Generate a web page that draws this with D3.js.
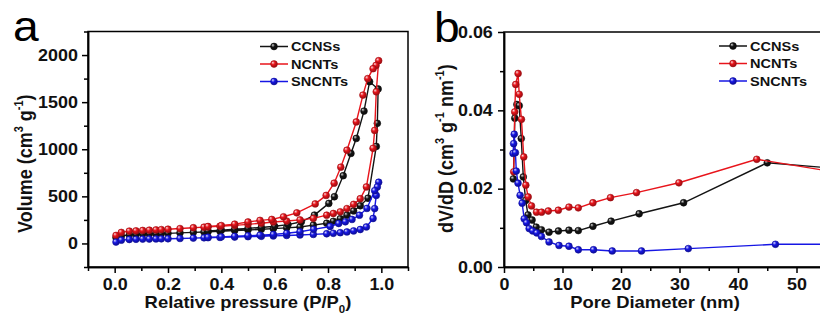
<!DOCTYPE html>
<html><head><meta charset="utf-8">
<script src="https://cdn.jsdelivr.net/npm/d3@7/dist/d3.min.js"></script>
<style>
body{margin:0;background:#fff;}
text{font-family:"Liberation Sans",Arial,Helvetica,sans-serif;}
</style>
</head><body>
<svg id="c" width="820" height="320"></svg>
<script>
// ---------- data ----------
const seriesNames = ["CCNSs", "NCNTs", "SNCNTs"];
const seriesColors = ["#141414", "#e8141b", "#1616e4"];

// N2 isotherms: [relative pressure, volume]
const ccnsAds = [[0.005,62],[0.025,78],[0.055,92],[0.08,96],[0.105,99],[0.13,101],[0.155,103],[0.175,105],[0.2,107],[0.245,112],[0.295,118],[0.335,122],[0.35,124],[0.395,130],[0.45,137],[0.5,143],[0.55,150],[0.595,157],[0.645,165],[0.695,175],[0.745,195],[0.795,215],[0.82,235],[0.846,262],[0.871,300],[0.896,345],[0.921,400],[0.95,480],[0.981,1030],[0.985,1275],[0.988,1640]];
const ccnsDes = [[0.956,1717],[0.935,1405],[0.906,1115],[0.886,956],[0.857,719],[0.824,496],[0.803,425],[0.749,301],[0.70,230],[0.65,200],[0.60,182],[0.55,170],[0.50,160],[0.45,150],[0.40,140],[0.35,132]];
const ncntAds = [[0.005,85],[0.025,117],[0.055,131],[0.08,134],[0.105,138],[0.13,141],[0.155,144],[0.175,147],[0.2,151],[0.245,158],[0.295,167],[0.335,173],[0.35,176],[0.395,183],[0.45,192],[0.5,203],[0.55,215],[0.595,228],[0.645,238],[0.695,250],[0.745,266],[0.795,300],[0.82,318],[0.846,336],[0.871,370],[0.896,415],[0.921,475],[0.944,600],[0.969,1010],[0.975,1200],[0.981,1610],[0.99,1940]];
const ncntDes = [[0.98,1890],[0.969,1855],[0.949,1750],[0.931,1575],[0.906,1290],[0.871,990],[0.848,810],[0.823,640],[0.793,510],[0.752,420],[0.683,325],[0.633,283],[0.589,255],[0.545,245],[0.50,228],[0.45,205],[0.40,190],[0.35,180]];
const sncnAds = [[0.005,15],[0.025,35],[0.055,42],[0.08,44],[0.105,46],[0.13,47],[0.155,48],[0.175,49],[0.2,50],[0.245,53],[0.295,57],[0.335,60],[0.35,61],[0.395,64],[0.45,68],[0.5,72],[0.55,76],[0.595,80],[0.645,85],[0.695,90],[0.745,96],[0.795,103],[0.82,108],[0.846,114],[0.871,122],[0.896,133],[0.921,148],[0.944,175],[0.969,265],[0.975,370],[0.981,510],[0.99,650]];
const sncnDes = [[0.985,600],[0.975,560],[0.946,372],[0.918,300],[0.89,255],[0.865,230],[0.84,212],[0.808,180],[0.746,150],[0.695,124],[0.645,108],[0.595,95],[0.545,88],[0.50,82],[0.45,76],[0.40,70],[0.35,66]];

// pore size distributions: [pore diameter nm, dV/dD]
const ccnsPsd = [[1.6,0.0225],[1.85,0.0380],[2.2,0.0415],[2.6,0.0412],[2.95,0.0328],[3.3,0.0230],[3.7,0.0170],[4.1,0.0133],[4.8,0.0120],[5.5,0.0102],[6.4,0.0095],[7.7,0.0089],[9.3,0.0092],[11.1,0.0094],[12.7,0.0093],[15.2,0.0104],[18.3,0.0117],[23.1,0.0136],[30.7,0.0164],[45.0,0.0266],[58,0.0250]];
const ncntPsd = [[1.66,0.0243],[1.83,0.0396],[2.0,0.0466],[2.41,0.0494],[2.6,0.0441],[2.98,0.0377],[3.38,0.0281],[3.73,0.0209],[4.13,0.0179],[4.7,0.0156],[5.56,0.0140],[6.42,0.0140],[7.57,0.0143],[9.29,0.0145],[11.1,0.0153],[12.7,0.0151],[15.2,0.0164],[18.2,0.0177],[22.65,0.0190],[29.9,0.0215],[43.2,0.0275],[58,0.0239]];
const sncnPsd = [[1.55,0.0290],[1.65,0.0315],[1.75,0.0339],[1.95,0.0292],[2.1,0.0245],[2.4,0.0214],[2.75,0.0183],[3.1,0.0163],[3.45,0.0123],[3.85,0.0113],[4.3,0.0098],[4.9,0.0092],[5.6,0.0087],[6.4,0.0078],[7.7,0.0064],[9.4,0.0055],[11.1,0.0053],[12.7,0.0044],[15.3,0.0044],[18.5,0.0041],[23.5,0.0041],[31.5,0.0047],[46.4,0.0058],[58,0.0058]];

// ticks
const pTicks = [0, 0.2, 0.4, 0.6, 0.8, 1.0];
const pMinor = [-0.1, 0.1, 0.3, 0.5, 0.7, 0.9, 1.1];
const volTicks = [0, 500, 1000, 1500, 2000];
const volMinor = [-250, 250, 750, 1250, 1750, 2250];
const dTicks = [0, 10, 20, 30, 40, 50];
const dMinor = [5, 15, 25, 35, 45, 55];
const psdTicks = [0, 0.02, 0.04, 0.06];
const psdMinor = [0.01, 0.03, 0.05];

// ---------- drawing ----------
const SX = 1.12;
const svg = d3.select("#c");
const defs = svg.append("defs");

seriesColors.forEach((c, i) => {
  const g = defs.append("radialGradient").attr("id", "g" + i)
    .attr("cx", "40%").attr("cy", "40%").attr("r", "60%").attr("fx", "32%").attr("fy", "28%");
  const light = d3.interpolateRgb(c, "#ffffff")(0.85);
  const dark = d3.interpolateRgb(c, "#000000")(0.35);
  g.append("stop").attr("offset", "0%").attr("stop-color", light);
  g.append("stop").attr("offset", "45%").attr("stop-color", c);
  g.append("stop").attr("offset", "100%").attr("stop-color", dark);
});

function panel(opts) {
  const x = d3.scaleLinear().domain(opts.xd).range(opts.xr);
  const y = d3.scaleLinear().domain(opts.yd).range(opts.yr);
  const cid = "clip" + opts.id;
  defs.append("clipPath").attr("id", cid).append("rect")
    .attr("x", opts.xr[0]).attr("y", opts.yr[1])
    .attr("width", opts.xr[1] - opts.xr[0]).attr("height", opts.yr[0] - opts.yr[1]);

  svg.append("rect").attr("x", opts.xr[0]).attr("y", opts.yr[1])
    .attr("width", opts.xr[1] - opts.xr[0]).attr("height", opts.yr[0] - opts.yr[1])
    .attr("fill", "none").attr("stroke", "#000").attr("stroke-width", 1.5);

  const bx = svg.append("g").attr("transform", `translate(0,${opts.yr[0]})`)
    .call(d3.axisBottom(x).tickValues(opts.xt).tickFormat(opts.xf).tickSize(6).tickPadding(6).tickSizeOuter(0));
  svg.append("g").attr("transform", `translate(0,${opts.yr[0]})`)
    .call(d3.axisBottom(x).tickValues(opts.xm).tickFormat("").tickSize(4).tickSizeOuter(0));
  const ly = svg.append("g").attr("transform", `translate(${opts.xr[0]},0)`)
    .call(d3.axisLeft(y).tickValues(opts.yt).tickFormat(opts.yf).tickSize(6).tickPadding(opts.ypad).tickSizeOuter(0));
  svg.append("g").attr("transform", `translate(${opts.xr[0]},0)`)
    .call(d3.axisLeft(y).tickValues(opts.ym).tickFormat("").tickSize(4).tickSizeOuter(0));
  svg.selectAll(".domain").attr("stroke-width", 1.5);
  svg.selectAll(".tick line").attr("stroke-width", 1.5);
  [bx, ly].forEach(g => g.selectAll(".tick text")
    .attr("font-size", 16).attr("font-weight", "bold").attr("fill", "#111")
    .attr("font-family", '"Liberation Sans",Arial,sans-serif')
    .attr("transform", `scale(${SX},1)`));

  const plot = svg.append("g").attr("clip-path", `url(#${cid})`);
  const line = d3.line().x(d => x(d[0])).y(d => y(d[1]));
  opts.data.forEach((pts, i) => {
    plot.append("path").datum(pts).attr("d", line)
      .attr("fill", "none").attr("stroke", seriesColors[i]).attr("stroke-width", 1.4);
    plot.selectAll(null).data(pts).join("circle")
      .attr("cx", d => x(d[0])).attr("cy", d => y(d[1])).attr("r", opts.r)
      .attr("fill", `url(#g${i})`)
      .attr("stroke", d3.interpolateRgb(seriesColors[i], "#000")(0.3)).attr("stroke-width", 0.6);
  });

  seriesNames.forEach((name, i) => {
    const yy = opts.leg[1] + i * 17.5;
    const lx = opts.leg[0];
    svg.append("line").attr("x1", lx).attr("x2", lx + 28).attr("y1", yy).attr("y2", yy)
      .attr("stroke", seriesColors[i]).attr("stroke-width", 1.5);
    svg.append("circle").attr("cx", lx + 14).attr("cy", yy).attr("r", 3.4)
      .attr("fill", `url(#g${i})`).attr("stroke", d3.interpolateRgb(seriesColors[i], "#000")(0.3)).attr("stroke-width", 0.6);
    svg.append("text").attr("transform", `translate(${lx + 31},${yy + 4.6}) scale(${SX},1)`)
      .attr("font-size", 13).attr("font-weight", "bold").attr("fill", "#111").text(name);
  });
  return {x, y};
}

panel({
  id: "a", xd: [-0.1, 1.1], xr: [88, 408], yd: [-250, 2250], yr: [267, 31.5],
  xt: pTicks, xm: pMinor, yt: volTicks, ym: volMinor,
  xf: d3.format(".1f"), yf: d3.format("d"), ypad: 3, r: 3.4,
  data: [ccnsAds.concat(ccnsDes), ncntAds.concat(ncntDes), sncnAds.concat(sncnDes)],
  leg: [260, 46.5]
});

panel({
  id: "b", xd: [0, 60], xr: [504, 855], yd: [0, 0.06], yr: [267, 32],
  xt: dTicks, xm: dMinor, yt: psdTicks, ym: psdMinor,
  xf: d3.format("d"), yf: d3.format(".2f"), ypad: 4, r: 3.4,
  data: [ccnsPsd, ncntPsd, sncnPsd],
  leg: [719, 46]
});

function xTitle(cx, parts) {
  const t = svg.append("text").attr("transform", `translate(${cx},308) scale(1.15,1)`)
    .attr("text-anchor", "middle").attr("font-size", 16).attr("font-weight", "bold").attr("fill", "#111");
  parts(t);
}
xTitle(248, t => {
  t.append("tspan").text("Relative pressure (P/P");
  t.append("tspan").attr("font-size", 10).attr("dy", 5).text("0");
  t.append("tspan").attr("dy", -5).text(")");
});
xTitle(655, t => { t.text("Pore Diameter (nm)"); });

function yTitle(bx, by, segs) {
  const t = svg.append("text").attr("transform", `translate(${bx},${by}) rotate(-90) scale(1,${SX})`)
    .attr("text-anchor", "start").attr("font-size", 18).attr("font-weight", "bold").attr("fill", "#111");
  segs.forEach(s => {
    if (s.sup) t.append("tspan").attr("font-size", 11).attr("dy", -8).text(s.t);
    else t.append("tspan").attr("dy", s.after ? 8 : 0).text(s.t);
  });
}
yTitle(32, 233, [{t:"Volume (cm"},{t:"3",sup:1},{t:" g",after:1},{t:"-1",sup:1},{t:")",after:1}]);
yTitle(453, 233, [{t:"dV/dD (cm"},{t:"3",sup:1},{t:" g",after:1},{t:"-1",sup:1},{t:" nm",after:1},{t:"-1",sup:1},{t:")",after:1}]);

svg.append("text").attr("font-size", 42).attr("fill", "#000")
  .attr("transform", "translate(13,41) scale(1.1,1)").text("a");
svg.append("text").attr("font-size", 42).attr("fill", "#000")
  .attr("transform", "translate(434,42) scale(1.1,1)").text("b");
</script>
</body></html>
